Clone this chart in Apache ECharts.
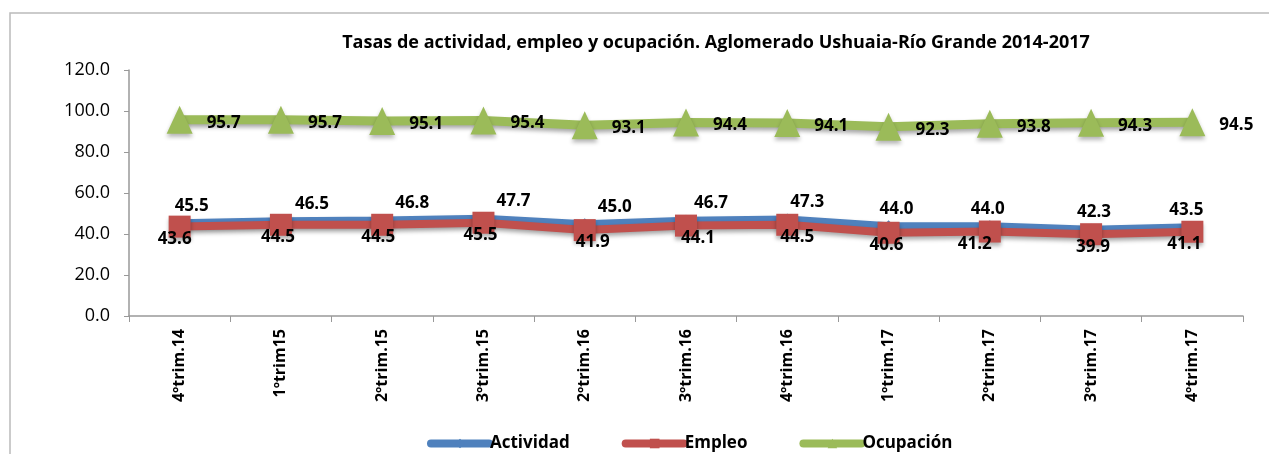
<!DOCTYPE html>
<html><head><meta charset="utf-8">
<script src="https://cdn.jsdelivr.net/npm/echarts@6/dist/echarts.min.js"></script>
<style>html,body{margin:0;padding:0;background:#fff}#c{width:1269px;height:454px}</style>
</head><body><div id="c"></div>
<script>
const categories = ['4ºtrim.14','1ºtrim15','2ºtrim.15','3ºtrim.15','2ºtrim.16','3ºtrim.16','4ºtrim.16','1ºtrim.17','2ºtrim.17','3ºtrim.17','4ºtrim.17'];
const actividad = [45.5,46.5,46.8,47.7,45.0,46.7,47.3,44.0,44.0,42.3,43.5];
const empleo = [43.6,44.5,44.5,45.5,41.9,44.1,44.5,40.6,41.2,39.9,41.1];
const ocupacion = [95.7,95.7,95.1,95.4,93.1,94.4,94.1,92.3,93.8,94.3,94.5];
const titleText = 'Tasas de actividad, empleo y ocupación. Aglomerado Ushuaia-Río Grande 2014-2017';
// horizontal shifts of the data labels (px), as placed in the reference
const actLabelDx = [12,31,30,30,30,25,20,8,-2,3,-6];
const empLabelDx = [-5,-3,-4,-3,8,12,10,-2,-15,2,-8];

const FONT = '"Open Sans",sans-serif';
const chart = echarts.init(document.getElementById('c'));
const lbl = {fontFamily: FONT, fontWeight:'bold', fontSize:17, color:'#000'};
const shadow = {shadowColor:'rgba(0,0,0,0.35)', shadowBlur:4, shadowOffsetY:3};
const withDx = (vals, dx) => vals.map((v,i)=>({value:v, label:{offset:[dx[i],0]}}));
chart.setOption({
  animation:false,
  graphic:[{type:'polyline', shape:{points:[[10,454],[10,13],[1269,13]]}, style:{stroke:'#bbb', lineWidth:1.5, fill:null}}],
  title:{text:titleText, left:711, textAlign:'center', top:29, textStyle:{fontFamily:FONT, fontWeight:'bold', fontSize:18, color:'#000'}},
  grid:{left:129, right:26, top:70, bottom:138},
  legend:{top:430, left:422, itemGap:52, itemWidth:58, itemHeight:12,
    lineStyle:{width:8, cap:'round'},
    textStyle:{fontFamily:FONT, fontWeight:'bold', fontSize:17, color:'#000', padding:[0,0,0,-4]},
    data:['Actividad','Empleo','Ocupación']},
  xAxis:{type:'category', data:categories, boundaryGap:true,
    axisLine:{lineStyle:{color:'#999', width:1.5}},
    axisTick:{show:true, length:6, lineStyle:{color:'#999'}},
    axisLabel:{rotate:90, fontFamily:FONT, fontWeight:'bold', fontSize:16, color:'#000', margin:13}},
  yAxis:{type:'value', min:0, max:120, interval:20,
    axisLine:{show:true, lineStyle:{color:'#999', width:1.5}},
    axisTick:{show:true, length:5, lineStyle:{color:'#999'}},
    splitLine:{show:false},
    axisLabel:{formatter:v=>v.toFixed(1), fontFamily:FONT, fontSize:18, color:'#000', margin:19}},
  series:[
    {name:'Actividad', type:'line', data:withDx(actividad, actLabelDx), symbol:'diamond', symbolSize:11,
      itemStyle:{color:'#4F81BD'}, lineStyle:Object.assign({width:7, color:'#4F81BD'}, shadow),
      label:{show:true, position:'top', distance:3, formatter:p=>p.value.toFixed(1), ...lbl}},
    {name:'Empleo', type:'line', data:withDx(empleo, empLabelDx), symbol:'rect', symbolSize:22,
      itemStyle:{color:'#C0504D', shadowColor:'rgba(0,0,0,0.3)', shadowBlur:4, shadowOffsetY:3}, lineStyle:Object.assign({width:8, color:'#C0504D'}, shadow),
      label:{show:true, position:'bottom', distance:-7, formatter:p=>p.value.toFixed(1), ...lbl}},
    {name:'Ocupación', type:'line', data:ocupacion, symbol:'triangle', symbolSize:[26,28],
      itemStyle:{color:'#9BBB59', shadowColor:'rgba(0,0,0,0.3)', shadowBlur:4, shadowOffsetY:3}, lineStyle:Object.assign({width:9, color:'#9BBB59'}, shadow),
      label:{show:true, position:'right', distance:14, offset:[0,3], formatter:p=>p.value.toFixed(1), ...lbl}}
  ]
});
</script></body></html>
